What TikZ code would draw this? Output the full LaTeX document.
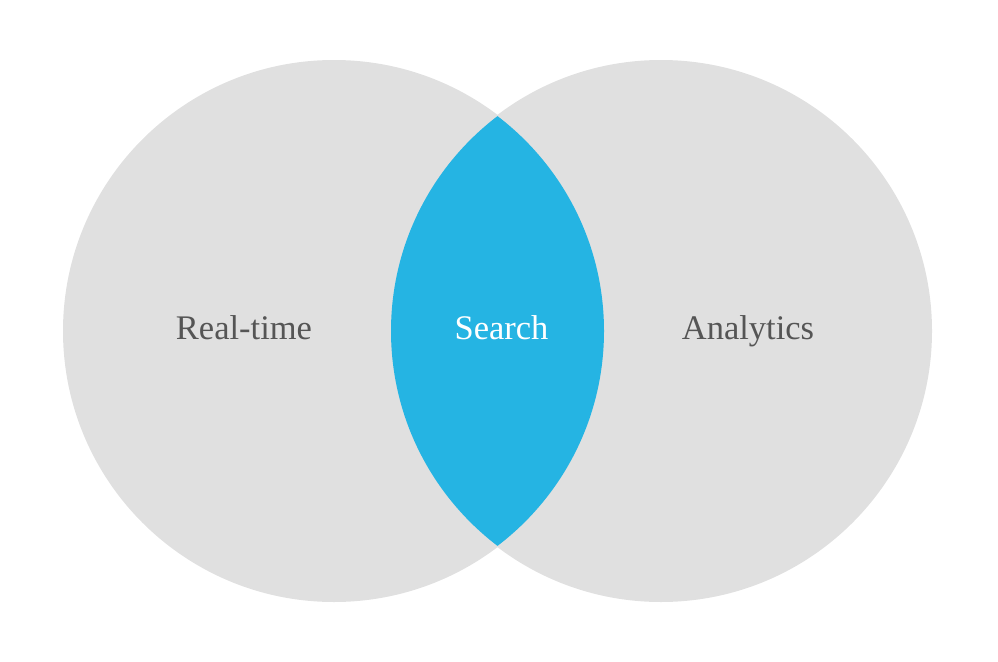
\documentclass[tikz,border=0pt]{standalone}
\usepackage{fontspec}
\setmainfont{Liberation Serif}
\usepackage{tikz}
\usetikzlibrary{positioning}
\definecolor{venngray}{HTML}{E0E0E0}
\definecolor{vennblue}{HTML}{25B4E3}
\definecolor{labelgray}{HTML}{555555}
\tikzset{
	set/.style={circle, fill=venngray, minimum size=542pt, inner sep=0pt},
	setlabel/.style={anchor=base, text=labelgray, font=\fontsize{34.5}{40}\selectfont},
}

\begin{document}
\begin{tikzpicture}[x=1pt, y=-1pt]
			\useasboundingbox (0,0) rectangle (998,661);
			\node[set] (rt) at (334,331) {};
			\node[set] (an) at (661,331) {};

			\begin{scope}
				\clip (rt.center) circle (270pt);
				\fill[vennblue] (an.center) circle (270pt);
			\end{scope}

			\node[setlabel] (rtl) at (244,339) {Real-time};
			\node[setlabel, text=white] (se) at (501.5,339) {Search};
			\node[setlabel] (anl) at (748,339) {Analytics};
		\end{tikzpicture}
\end{document}
